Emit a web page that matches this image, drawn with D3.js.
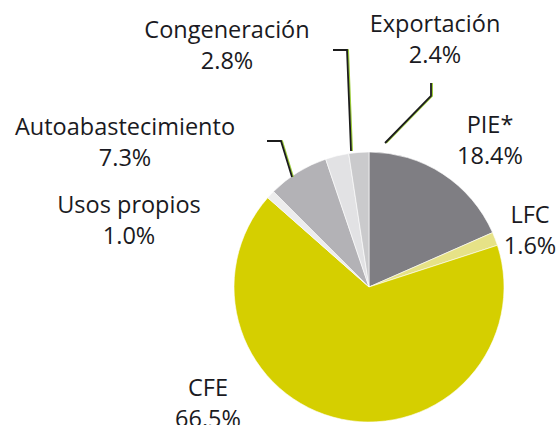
<!DOCTYPE html>
<html><head><meta charset="utf-8">
<script src="https://cdn.jsdelivr.net/npm/d3@7"></script>
<style>html,body{margin:0;padding:0;background:#fff;overflow:hidden}</style>
</head><body>
<svg id="c" width="560" height="425"></svg>
<script>
const categories = ["PIE*", "LFC", "CFE", "Usos propios", "Autoabastecimiento", "Congeneración", "Exportación"];
const shares = [18.4, 1.6, 66.5, 1.0, 7.3, 2.8, 2.4];
const valueLabels = ["18.4%", "1.6%", "66.5%", "1.0%", "7.3%", "2.8%", "2.4%"];
const colors = ["#7f7e83", "#e6e287", "#d5cf00", "#ededed", "#b3b2b6", "#e2e2e4", "#cacacc"];

// label layout (relative to pie center)
const labelPos = [[121, -154], [161, -64], [-161, 109], [-240, -74], [-244, -152], [-142, -249], [66, -255]];
// leader lines (relative to pie center)
const leaders = [
  {i: 5, pts: [[-36, -237], [-22, -237], [-18, -136]]},
  {i: 6, pts: [[16, -144], [62, -191], [62, -204]]},
  {i: 4, pts: [[-102, -146], [-88, -146], [-77, -110]]}
];

const cx = 369, cy = 287, R = 135;
const svg = d3.select("#c");
const g = svg.append("g").attr("transform", `translate(${cx},${cy})`);
const pie = d3.pie().sort(null).value(d => d)(shares);
const arc = d3.arc().innerRadius(0).outerRadius(R);
g.selectAll("path.s").data(pie).join("path").attr("class", "s")
  .attr("d", arc).attr("fill", (d, i) => colors[i])
  .attr("stroke", "#fff").attr("stroke-width", 0.6);

const line = d3.line();
leaders.forEach(l => {
  g.append("path").attr("d", line(l.pts.map(p => [p[0] + 1.2, p[1]]))).attr("fill", "none")
    .attr("stroke", "#9ccc3a").attr("stroke-width", 1.6);
  g.append("path").attr("d", line(l.pts)).attr("fill", "none")
    .attr("stroke", "#1c1c1c").attr("stroke-width", 1.8);
});

const lab = g.selectAll("g.l").data(categories).join("g").attr("class", "l")
  .attr("transform", (d, i) => `translate(${labelPos[i][0]},${labelPos[i][1]})`)
  .attr("font-family", "'Open Sans', sans-serif").attr("font-size", 23.5)
  .attr("fill", "#1a1a22").attr("text-anchor", "middle");
lab.append("text").text(d => d);
lab.append("text").attr("y", 31).text((d, i) => valueLabels[i]);
</script>
</body></html>
